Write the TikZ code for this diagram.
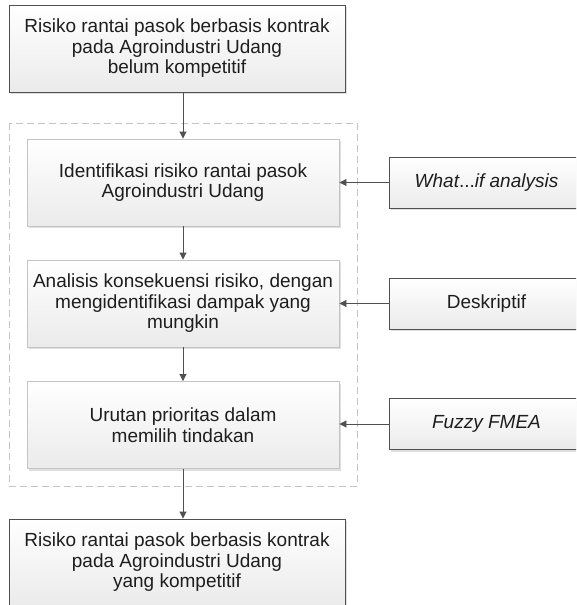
\documentclass[tikz,border=0pt]{standalone}
\usepackage{fontspec}
\setmainfont{Liberation Sans}
\usetikzlibrary{arrows.meta,shadows}
\definecolor{garis}{HTML}{505050}
\definecolor{bingkai}{HTML}{C4C4C4}
\definecolor{teks}{HTML}{1E1E1E}
\tikzset{
  kotak/.style={draw=garis, line width=0.9pt, top color=white, bottom color=black!8,
    text=teks, align=center, font=\fontsize{19}{20.5}\selectfont,
    drop shadow={shadow xshift=2pt, shadow yshift=-2pt, opacity=0.25}},
  tahap/.style={kotak, draw=bingkai, minimum width=312pt, minimum height=87pt},
  metode/.style={kotak, minimum width=195pt, minimum height=51pt},
  alur/.style={draw=garis, line width=0.9pt, -{Triangle[length=7pt,width=7pt]}},
}
\begin{document}
\begin{tikzpicture}[x=1pt, y=-1pt]
            \useasboundingbox (0,0) rectangle (576,605);
            \clip (0,0) rectangle (576,605);
            % kotak masalah dan hasil
            \node[kotak, minimum width=336pt, minimum height=87pt] (masalah) at (177,48.5)
                {Risiko rantai pasok berbasis kontrak\\pada Agroindustri Udang\\belum kompetitif};
            \node[kotak, minimum width=336pt, minimum height=87pt] (hasil) at (177,562.5)
                {Risiko rantai pasok berbasis kontrak\\pada Agroindustri Udang\\yang kompetitif};
            
            % tahapan
            \draw[bingkai, line width=0.8pt, dash pattern=on 7pt off 4pt] (9,123) rectangle (357,486);
            \node[tahap] (identifikasi) at (183,182.5) {Identifikasi risiko rantai pasok\\Agroindustri Udang};
            \node[tahap] (analisis) at (183,303.5) {Analisis konsekuensi risiko, dengan\\mengidentifikasi dampak yang\\mungkin};
            \node[tahap] (urutan) at (183,425) {Urutan prioritas dalam\\memilih tindakan};
            
            % metode
            \node[metode] (whatif) at (486.5,182.5) {\textit{What}...\textit{if analysis}};
            \node[metode] (deskriptif) at (486.5,303.5) {Deskriptif};
            \node[metode] (fuzzy) at (486.5,424) {\textit{Fuzzy FMEA}};
            
            \draw[alur] (masalah.south -| identifikasi.north) -- (identifikasi.north);
            \draw[alur] (identifikasi) -- (analisis);
            \draw[alur] (analisis) -- (urutan);
            \draw[alur] (urutan.south) -- (hasil.north -| urutan.south);
            
            \draw[alur] (whatif.west) -- (whatif.west -| identifikasi.east);
            \draw[alur] (deskriptif.west) -- (deskriptif.west -| analisis.east);
            \draw[alur] (fuzzy.west) -- (fuzzy.west -| urutan.east);
        \end{tikzpicture}
\end{document}
